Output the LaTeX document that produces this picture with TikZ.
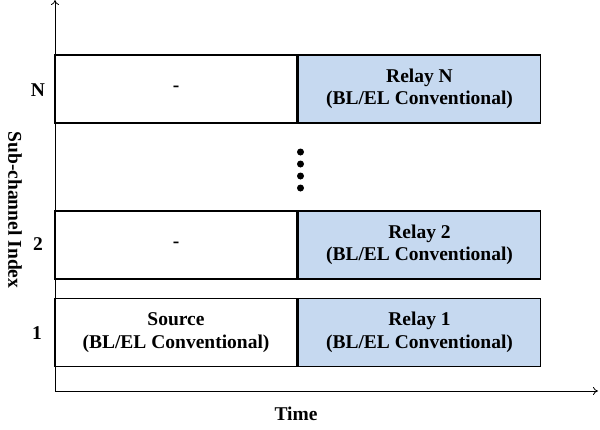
\documentclass[tikz,border=0pt]{standalone}
\usepackage{fontspec}
\setmainfont{Liberation Serif}
\usepackage{xcolor}
\usepackage{tikz}
\usetikzlibrary{arrows.meta}
\definecolor{relayblue}{RGB}{198,217,240}

\begin{document}
\begin{tikzpicture}[x=1pt,y=-1pt,font=\fontsize{19.5}{22.5}\selectfont\bfseries]
\tikzstyle{slot}=[draw,line width=1.5pt,shape=rectangle,minimum width=242pt,minimum height=68pt,inner sep=0pt,align=center]
\tikzstyle{relay}=[slot,fill=relayblue]
\tikzstyle{axis}=[line width=0.8pt,-{To[length=5pt,width=8pt]}]
\useasboundingbox (0,0) rectangle (600,429);
%
\coordinate (o) at (55,391);
\coordinate (ytop) at (55,0);
\coordinate (xend) at (598,391);
\draw[axis] (o) -- (ytop);
\draw[axis] (o) -- (xend);
%
\node[slot](sN) at (176,89){-};
\node[relay](rN) at (419.5,89){Relay N\\(BL/EL Conventional)};
\node[slot](s2) at (176,245){-};
\node[relay](r2) at (419.5,245){Relay 2\\(BL/EL Conventional)};
\node[slot](s1) at (176,332.5){Source\\(BL/EL Conventional)};
\node[relay](r1) at (419.5,332.5){Relay 1\\(BL/EL Conventional)};
%
\foreach \i/\y in {1/152,2/164,3/176,4/188}
  \node[circle,fill=black,inner sep=0pt,minimum size=7pt](dot\i) at (300.5,\y){};
%
\node[](lN) at (38,90){N};
\node[](l2) at (38,244){2};
\node[](l1) at (37,333){1};
%
\node[rotate=-90](ylab) at (15,210){Sub-channel Index};
\node[](xlab) at (296,414){Time};
\end{tikzpicture}
\end{document}
